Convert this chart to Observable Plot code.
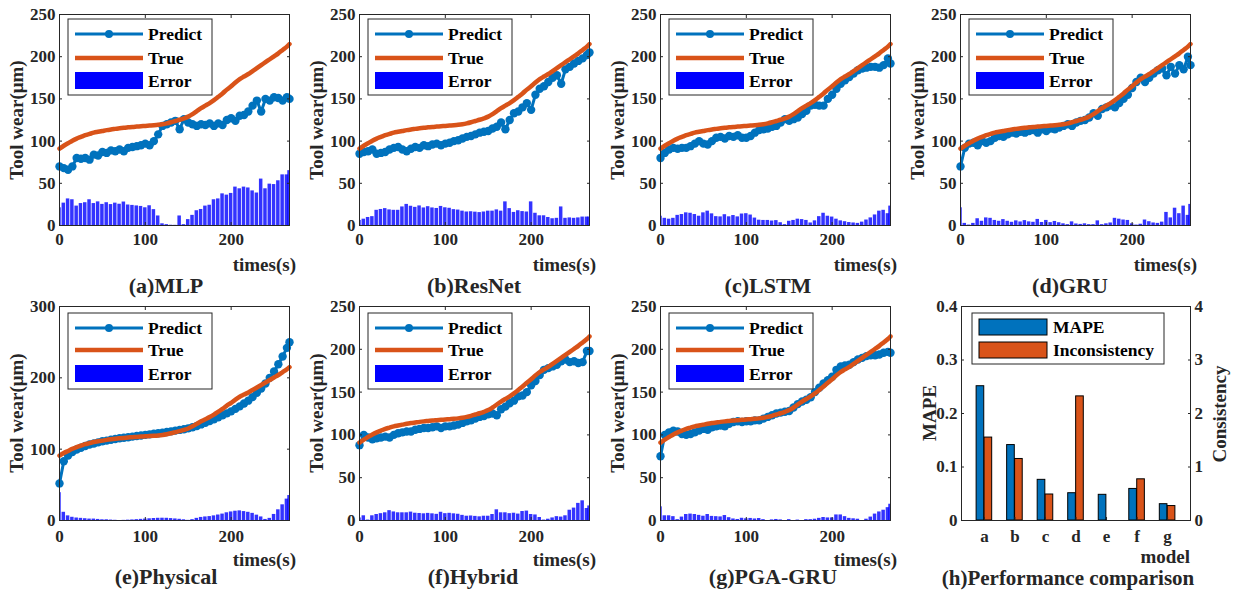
<!DOCTYPE html>
<html><head><meta charset="utf-8">
<script src="https://cdn.jsdelivr.net/npm/d3@7"></script>
<script src="https://cdn.jsdelivr.net/npm/@observablehq/plot@0.6"></script>
<style>
body{margin:0;background:#fff;}
#root{position:relative;width:1243px;height:591px;overflow:hidden;font-family:"Liberation Serif","Times New Roman",serif;font-weight:bold;color:#262626;background:#fff}
.lbl{position:absolute;white-space:nowrap;line-height:1}
svg.pl{position:absolute}
</style></head><body><div id="root"></div>
<script>
// ---------- data ----------
const times = [0,5,10,15,20,25,30,35,40,45,50,55,60,65,70,75,80,85,90,95,100,105,110,115,120,125,130,135,140,145,150,155,160,165,170,175,180,185,190,195,200,205,210,215,220,225,230,235,240,245,250,255,260,265,268];
const trueWear = [91,94.5,97.5,100.5,103,105,107,108.5,110,111,112,113,113.8,114.5,115.2,115.8,116.3,116.8,117.2,117.6,118,118.4,118.8,119.3,120,121,122.3,123.8,125.3,127,129,132,135.5,139,142,145,148.5,152.5,156.5,161,165,169.5,173.5,176.5,179.5,183,186.5,190,193.5,197,200.5,204,208,212,215];
const predMLP = [70,68,66,70,80,79,80,78,84,83,87,86,89,88,90,88,92,93,94,95,97,95,100,108,118,120,122,124,114,126,122,120,118,120,119,121,118,121,119,125,127,124,130,131,135,142,148,135,150,148,152,151,148,152,150];
const predResNet = [85,87,88,90,85,86,87,90,92,93,90,88,91,93,92,95,94,96,97,95,97,98,100,101,103,105,106,108,110,111,112,115,117,122,114,125,133,135,140,145,137,155,162,165,170,175,178,168,185,188,192,195,198,202,205];
const predLSTM = [80,86,90,92,91,92,92,94,97,100,97,96,100,104,105,103,106,105,107,104,104,106,110,113,114,115,117,118,122,126,124,126,128,132,136,142,143,142,142,150,155,162,168,172,176,180,184,186,187,188,188,187,190,198,192];
const predGRU = [70,92,97,98,95,100,98,100,104,106,105,108,110,109,111,110,112,113,110,114,112,115,114,116,118,120,118,122,124,125,128,133,130,138,140,142,140,145,150,155,163,170,175,170,175,180,184,186,178,188,180,190,185,200,190];
const predPhysical = [52,83,91,96,99.5,102,104.5,106.5,108,109.5,111,112,113.2,114.2,115.2,116,116.8,117.6,118.4,119.2,120,120.8,121.6,122.4,123.2,124.1,125,126,127,128,129.2,130.8,132.5,134.7,137,139.5,142,144.8,147.5,150.2,153,156.5,160,164,168,173,179,185,192,200,209,219,230,242,250];
const predHybrid = [88,100,97,95,96,97,98,97,100,102,103,104,104,106,107,108,108,109,110,108,110,110,111,112,114,116,117,119,121,122,124,125,123,130,133,137,140,145,146,150,158,163,170,176,178,180,182,186,188,185,186,184,185,198,198];
const predPGAGRU = [75,100,103,105,104,101,100,101,103,105,107,106,109,110,111,110,113,115,116,115,116,116,117,117,119,121,123,125,126,127,128,132,136,139,141,144,150,155,160,164,168,176,180,181,182,185,188,190,192,193,193,194,196,197,196];

const models = ["a","b","c","d","e","f","g"];
const mape = [0.251,0.141,0.076,0.051,0.048,0.059,0.0305];
const inconsistency = [1.55,1.15,0.486,2.32,0,0.77,0.27];

const yTicks250 = [0,50,100,150,200,250];
const yTicks300 = [0,100,200,300];
const xTicks = [0,100,200];
const rightTicksH = [0,0.1,0.2,0.3,0.4];

const panels = [
  {title:"(a)MLP", pred:predMLP, ymax:250, yticks:yTicks250, row:0, col:0, tx:166},
  {title:"(b)ResNet", pred:predResNet, ymax:250, yticks:yTicks250, row:0, col:1, tx:474},
  {title:"(c)LSTM", pred:predLSTM, ymax:250, yticks:yTicks250, row:0, col:2, tx:768},
  {title:"(d)GRU", pred:predGRU, ymax:250, yticks:yTicks250, row:0, col:3, tx:1070},
  {title:"(e)Physical", pred:predPhysical, ymax:300, yticks:yTicks300, row:1, col:0, tx:166},
  {title:"(f)Hybrid", pred:predHybrid, ymax:250, yticks:yTicks250, row:1, col:1, tx:473},
  {title:"(g)PGA-GRU", pred:predPGAGRU, ymax:250, yticks:yTicks250, row:1, col:2, tx:773}
];

// ---------- layout ----------
const FONT = '"Liberation Serif","Times New Roman",serif';
const BLUE = "#0072BD", ORANGE = "#D95319", AX = "#262626";
const root = document.getElementById("root");
const colLeft = [0,300,601,901];
const rowGeom = [
  {top:0, mt:14, ph:211, pad:10, ylab:120, tlab:264, title:286, leg:{y0:19,y1:95,p:34,t:58,e0:72,e1:89}},
  {top:290, mt:16, ph:214, pad:12, ylab:413, tlab:559, title:577, leg:{y0:313,y1:389,p:328,t:350,e0:365,e1:382}}
];

function label(text, x, y, size, how) {
  const d = document.createElement("div");
  d.className = "lbl";
  d.textContent = text;
  d.style.left = x + "px";
  d.style.top = y + "px";
  d.style.fontSize = size + "px";
  let tr = "translate(-50%,-50%)";
  if (how === "end") tr = "translate(-100%,-50%)";
  if (how === "start") tr = "translate(0,-50%)";
  if (how === "rot") tr = "translate(-50%,-50%) rotate(-90deg)";
  d.style.transform = tr;
  root.appendChild(d);
}

function place(svg, left, top) {
  svg.classList.add("pl");
  svg.style.left = left + "px";
  svg.style.top = top + "px";
  root.appendChild(svg);
}

const styleObj = {fontFamily: FONT, fontWeight: "bold", fontSize: "17px", color: AX, background: "transparent", overflow: "visible"};

for (const p of panels) {
  const g = rowGeom[p.row];
  const left = colLeft[p.col];
  const data = times.map((t, i) => ({t, pred: p.pred[i], tru: trueWear[i], err: Math.abs(p.pred[i] - trueWear[i])}));
  const svg = Plot.plot({
    width: 300, height: g.mt + g.ph + 30,
    marginLeft: 59, marginRight: 11, marginTop: g.mt, marginBottom: 30,
    style: styleObj,
    x: {domain: [0, 268]},
    y: {domain: [0, p.ymax]},
    marks: [
      Plot.rectY(data, {x1: d => d.t - 2.5, x2: d => d.t + 2.5, y: "err", fill: "#0000ff", fillOpacity: 0.8, insetLeft: 0.4, insetRight: 0.4, clip: true}),
      Plot.line(data, {x: "t", y: "pred", stroke: BLUE, strokeWidth: 3}),
      Plot.dot(data, {x: "t", y: "pred", r: 4.2, fill: BLUE}),
      Plot.line(data, {x: "t", y: "tru", stroke: ORANGE, strokeWidth: 4.5, curve: "monotone-x"}),
      Plot.frame({stroke: AX}),
      Plot.axisX({anchor: "bottom", ticks: xTicks, tickSize: -3, tickPadding: g.pad, label: null}),
      Plot.axisX({anchor: "top", ticks: xTicks, tickSize: -3, tickFormat: () => "", label: null}),
      Plot.axisY({anchor: "left", ticks: p.yticks, tickSize: -3, tickPadding: 7, label: null}),
      Plot.axisY({anchor: "right", ticks: p.yticks, tickSize: -3, tickFormat: () => "", label: null})
    ]
  });
  place(svg, left, g.top);

  // legend overlay
  const pl = left + 59;
  const L = g.leg;
  const lg = d3.create("svg").attr("class", "pl").attr("width", 160).attr("height", 80)
    .style("left", (pl + 8) + "px").style("top", (L.y0 - 1) + "px");
  const ox = pl + 8, oy = L.y0 - 1;
  lg.append("rect").attr("x", 1).attr("y", 1).attr("width", 144).attr("height", L.y1 - L.y0)
    .attr("fill", "#fff").attr("stroke", AX).attr("stroke-width", 1);
  lg.append("line").attr("x1", pl + 16 - ox).attr("x2", pl + 84 - ox).attr("y1", L.p - oy).attr("y2", L.p - oy)
    .attr("stroke", BLUE).attr("stroke-width", 3);
  lg.append("circle").attr("cx", pl + 50 - ox).attr("cy", L.p - oy).attr("r", 4).attr("fill", BLUE);
  lg.append("line").attr("x1", pl + 16 - ox).attr("x2", pl + 84 - ox).attr("y1", L.t - oy).attr("y2", L.t - oy)
    .attr("stroke", ORANGE).attr("stroke-width", 4.5);
  lg.append("rect").attr("x", pl + 16 - ox).attr("y", L.e0 - oy).attr("width", 68).attr("height", L.e1 - L.e0)
    .attr("fill", "#0000ff");
  [["Predict", L.p], ["True", L.t], ["Error", (L.e0 + L.e1) / 2]].forEach(([s, y]) => {
    lg.append("text").attr("x", pl + 89 - ox).attr("y", y - oy).attr("dy", "0.35em")
      .attr("font-family", FONT).attr("font-weight", "bold").attr("font-size", 17.5).attr("fill", "#000").text(s);
  });
  root.appendChild(lg.node());

  // labels
  label("Tool wear(μm)", left + 16, g.ylab, 19, "rot");
  label("times(s)", left + 296, g.tlab, 19, "end");
  label(p.title, p.tx, g.title, 22, "mid");
}

// ---------- panel (h) ----------
{
  const g = rowGeom[1];
  const left = 901;
  const data = models.map((m, i) => ({i: i + 1, m, mape: mape[i], inc: inconsistency[i]}));
  const svg = Plot.plot({
    width: 332, height: g.mt + g.ph + 30,
    marginLeft: 60, marginRight: 43, marginTop: g.mt, marginBottom: 30,
    style: styleObj,
    x: {domain: [0.25, 7.75]},
    y: {domain: [0, 0.4]},
    marks: [
      Plot.rect(data, {x1: d => d.i - 0.255, x2: d => d.i - 0.005, y1: 0, y2: "mape", fill: BLUE, stroke: "#000", strokeWidth: 1}),
      Plot.rect(data, {x1: d => d.i + 0.005, x2: d => d.i + 0.255, y1: 0, y2: d => d.inc / 10, fill: ORANGE, stroke: "#000", strokeWidth: 1}),
      Plot.frame({stroke: AX}),
      Plot.axisX({anchor: "bottom", ticks: data.map(d => d.i), tickFormat: i => models[i - 1], tickSize: -3, tickPadding: g.pad, label: null}),
      Plot.axisY({anchor: "left", ticks: rightTicksH, tickFormat: d => d === 0 ? "0" : d.toFixed(1), tickSize: -3, tickPadding: 7, label: null}),
      Plot.axisY({anchor: "right", ticks: rightTicksH, tickFormat: d => String(Math.round(d * 10)), tickSize: -3, tickPadding: 7, label: null})
    ]
  });
  place(svg, left, g.top);

  const lg = d3.create("svg").attr("class", "pl").attr("width", 200).attr("height", 60)
    .style("left", "971px").style("top", "312px");
  lg.append("rect").attr("x", 1).attr("y", 1).attr("width", 192).attr("height", 51)
    .attr("fill", "#fff").attr("stroke", AX);
  lg.append("rect").attr("x", 8).attr("y", 7).attr("width", 68).attr("height", 16).attr("fill", BLUE).attr("stroke", "#000");
  lg.append("rect").attr("x", 8).attr("y", 30).attr("width", 68).attr("height", 16).attr("fill", ORANGE).attr("stroke", "#000");
  [["MAPE", 15], ["Inconsistency", 38]].forEach(([s, y]) => {
    lg.append("text").attr("x", 82).attr("y", y).attr("dy", "0.35em")
      .attr("font-family", FONT).attr("font-weight", "bold").attr("font-size", 17.5).attr("fill", "#000").text(s);
  });
  root.appendChild(lg.node());

  label("MAPE", 929, 413, 19, "rot");
  label("Consistency", 1219, 414, 19, "rot");
  label("model", 1190, 556, 19, "end");
  label("(h)Performance comparison", 1068, 578, 21, "mid");
}
</script>
</body></html>
